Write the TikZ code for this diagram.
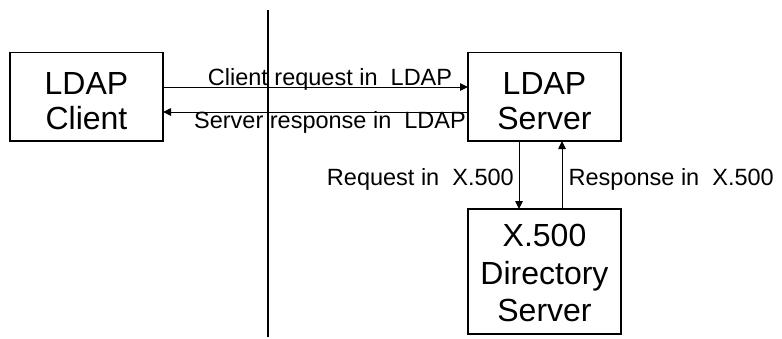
\documentclass[tikz,border=0pt]{standalone}
\usepackage{fontspec}
\setmainfont{Liberation Sans}
\usetikzlibrary{arrows.meta}
\begin{document}
\begin{tikzpicture}[x=1pt,y=-1pt,
  box/.style={draw, line width=1.3pt, minimum width=153pt, inner sep=0pt, outer sep=0pt},
  boxtext/.style={align=center, inner sep=0pt, font=\fontsize{32}{35}\selectfont},
  lbl/.style={inner sep=0pt, font=\fontsize{23.5}{28}\selectfont},
  arr/.style={line width=0.9pt, -{Triangle[length=8pt,width=7.5pt]}},
  divider/.style={line width=1.2pt}]
\useasboundingbox[fill=white] (0,0) rectangle (782,338);
% boxes
\node[box, minimum height=88.5pt] (client) at (86.5,96.75) {};
\node[box, minimum height=88.5pt] (server) at (544.5,96.75) {};
\node[box, minimum height=125pt] (x500) at (544.5,271.5) {};
% box texts
\node[boxtext] (clientT) at (86.5,101) {LDAP\\Client};
\node[boxtext] (serverT) at (544.5,101) {LDAP\\Server};
\node[boxtext, font=\fontsize{32}{37.5}\selectfont] (x500T) at (544.5,273) {X.500\\Directory\\Server};
% divider
\coordinate (vt) at (268,10);
\coordinate (vb) at (268,337);
\draw[divider] (vt) -- (vb);
% connectors
\draw[arr] ([yshift=9.75pt]client.east) -- ([yshift=9.75pt]server.west);
\draw[arr] ([yshift=-15.25pt]server.west) -- ([yshift=-15.25pt]client.east);
\draw[arr] ([xshift=-25.5pt]server.south) -- ([xshift=-25.5pt]x500.north);
\draw[arr] ([xshift=17.5pt]x500.north) -- ([xshift=17.5pt]server.south);
% labels
\node[lbl, anchor=base] (l1) at (330,85) {Client request in\ \ LDAP};
\node[lbl, anchor=base] (l2) at (330,128) {Server response in\ \ LDAP};
\node[lbl, anchor=base east] (l3) at (514,185) {Request in\ \ X.500};
\node[lbl, anchor=base west] (l4) at (568.5,185) {Response in\ \ X.500};
\end{tikzpicture}
\end{document}
